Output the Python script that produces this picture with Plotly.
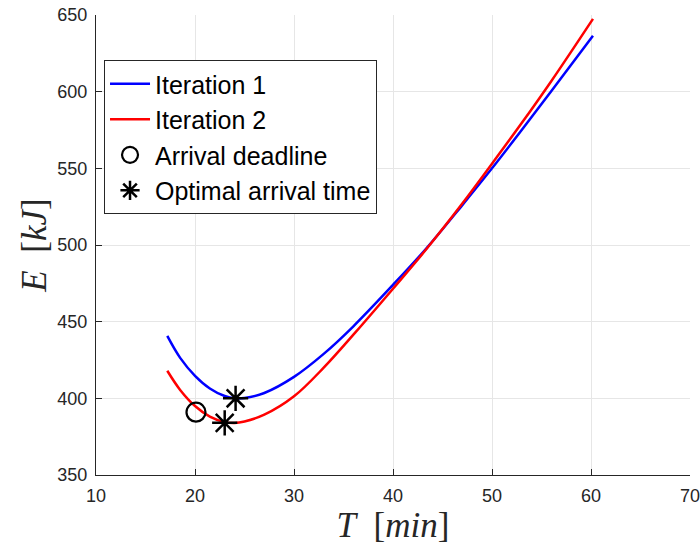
import plotly.graph_objects as go

# Energy vs. arrival time for two iterations
t_iter1 = [17.2, 18.5, 20, 21.5, 23, 24, 25, 27, 30, 33, 36, 40, 43.4, 47, 50, 53, 56, 60.2]
e_iter1 = [440.7, 426.4, 414.7, 406.45, 401.5, 400, 400.2, 403.5, 414, 429, 447, 474, 498, 526, 550, 575, 600.5, 636.5]

t_iter2 = [17.2, 18.5, 20, 21.5, 23, 24, 25, 27, 30, 33, 36.2, 40, 43.4, 47, 50, 53, 56, 60.2]
e_iter2 = [418, 405.5, 395, 388.1, 384.5, 383.9, 384.9, 389.3, 401.3, 420, 443, 471.5, 497.5, 527, 553, 579.5, 607, 647.5]

deadline_t = [20.1]
deadline_e = [391]

optimal_t = [24.1, 23.0]
optimal_e = [400, 384]

x_ticks = [10, 20, 30, 40, 50, 60, 70]
y_ticks = [350, 400, 450, 500, 550, 600, 650]

fig = go.Figure()
fig.add_trace(go.Scatter(x=t_iter1, y=e_iter1, mode="lines", name="Iteration 1",
                         line=dict(color="#0000ff", width=2.5, shape="spline"),
                         legendgroup="a"))
fig.add_trace(go.Scatter(x=t_iter2, y=e_iter2, mode="lines", name="Iteration 2",
                         line=dict(color="#ff0000", width=2.5, shape="spline"),
                         legendgroup="b"))
fig.add_trace(go.Scatter(x=deadline_t, y=deadline_e, mode="markers", name="Arrival deadline",
                         marker=dict(symbol="circle-open", size=19, color="black",
                                     line=dict(width=2.2, color="black")),
                         legendgroup="c"))
fig.add_trace(go.Scatter(x=optimal_t, y=optimal_e, mode="markers", name="Optimal arrival time",
                         marker=dict(symbol="asterisk-open", size=21, color="black",
                                     line=dict(width=2.5, color="black")),
                         legendgroup="d"))

axis_common = dict(
    showgrid=True, gridcolor="#e6e6e6", gridwidth=1,
    showline=True, linecolor="#262626", linewidth=1,
    ticks="inside", ticklen=6, tickcolor="#262626", tickwidth=1,
    tickfont=dict(family="Liberation Sans, Arial, sans-serif", size=18, color="#262626"),
    zeroline=False, mirror=False, automargin=False,
)

fig.update_xaxes(range=[10, 70], tickvals=x_ticks, ticklabelstandoff=4,
                 ticklabeloverflow="allow",
                 title=dict(text="<i>T</i>&nbsp;&nbsp;[<i>min</i>]",
                            font=dict(family="Liberation Serif, serif", size=35, color="#262626"),
                            standoff=0),
                 **axis_common)
fig.update_yaxes(range=[350, 650], tickvals=y_ticks, ticklabelstandoff=4,
                 ticklabeloverflow="allow",
                 title=dict(text="<i>E</i>&nbsp;&nbsp;[<i>kJ</i>]",
                            font=dict(family="Liberation Serif, serif", size=35, color="#262626"),
                            standoff=0),
                 **axis_common)

fig.update_layout(
    width=700, height=546,
    margin=dict(l=96, r=9.5, t=15, b=71, autoexpand=False),
    paper_bgcolor="white", plot_bgcolor="white",
    showlegend=True,
    legend=dict(x=0.0135, y=0.902, xanchor="left", yanchor="top",
                bgcolor="white", bordercolor="#262626", borderwidth=1,
                font=dict(family="Liberation Sans, Arial, sans-serif", size=25, color="black"),
                tracegroupgap=0, traceorder="normal", itemwidth=40),
)

fig.write_html("out.html")
